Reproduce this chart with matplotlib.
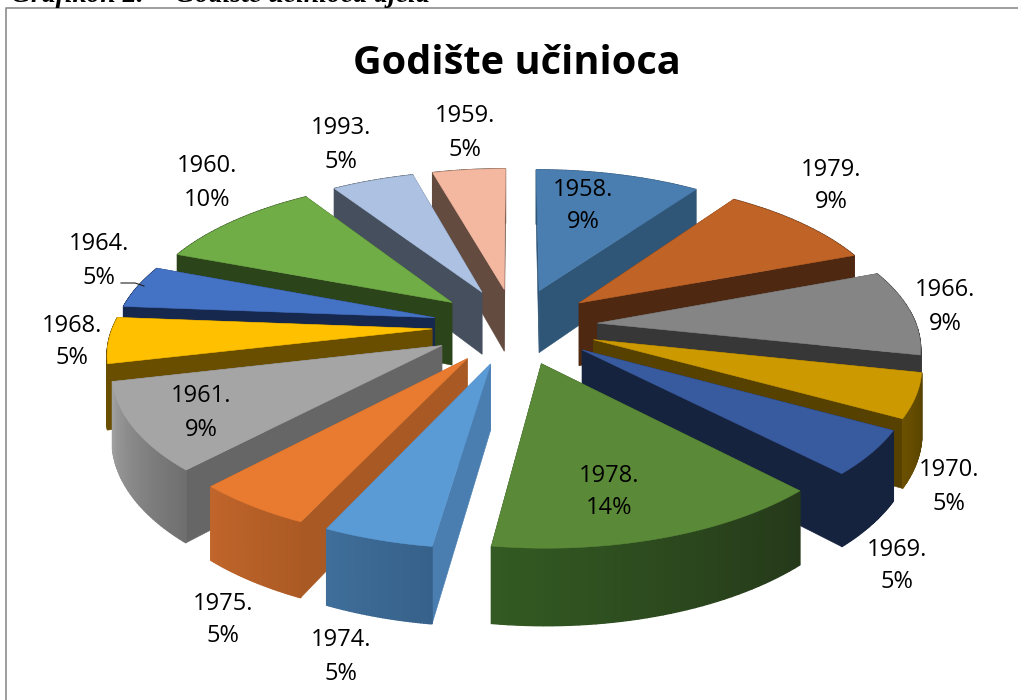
import numpy as np
import matplotlib
matplotlib.use('Agg')
import matplotlib.pyplot as plt

years = ['1958', '1979', '1966', '1970', '1969', '1978', '1974',
         '1975', '1961', '1968', '1964', '1960', '1993', '1959']
percents = [9, 9, 9, 5, 5, 14, 5, 5, 9, 5, 5, 10, 5, 5]

top_colors = ['#4a7eb0', '#c06326', '#858585', '#cc9a00', '#385a9f', '#5a8a38', '#5b9bd5',
              '#e87b30', '#a5a5a5', '#ffc000', '#4472c4', '#70ad47', '#adc2e2', '#f4b7a0']
cut_colors = ['#2f5577', '#4f2811', '#373737', '#574100', '#16233f', '#263f1a', '#4a7eb0',
              '#a95a24', '#666666', '#6a4e00', '#17284f', '#2c4419', '#454f5e', '#634b3f']
# outer wall shade at the start and the end of each slice
rim_start = ['#2f5577', '#4f2811', '#373737', '#574100', '#16233f', '#25391a', '#36618a',
             '#ac5a24', '#6f6f6f', '#6a4e00', '#17284f', '#2c4419', '#454f5e', '#634b3f']
rim_end = ['#2f5577', '#4f2811', '#373737', '#6a5000', '#16233f', '#335a22', '#3f6e9a',
           '#c0652b', '#a0a0a0', '#6a4e00', '#17284f', '#2c4419', '#454f5e', '#634b3f']

label_x = [583, 831, 945, 949, 897, 609, 341, 223, 201, 72, 99, 207, 341, 465]
label_y = [204, 184, 305, 485, 564, 490, 655, 618, 411, 340, 259, 181, 143, 131]

# projection of the pie, unit radius, pixels on screen
CX, CY = 515, 326
SCALE_X, SCALE_Y = 319, 147
PERSPECTIVE = 0.14
WALL = 64
EXPLODE = 0.26
# the picture's angles do not follow a clean projection, correction in degrees
WARP_AT = [0, 32.4, 64.8, 97.2, 115.2, 133.2, 183.6, 201.6, 219.6, 252, 270, 288, 324, 342, 360]
WARP_BY = [0, 2.6, 4.4, 5.0, 4.0, 3.0, 4.5, 3.3, 3.4, 4.8, 4.5, 3.0, 3.0, 2.5, 0]


def warp(deg):
    return deg + np.interp(deg, WARP_AT, WARP_BY)


def project(x, y, z=0.0):
    w = 1 + PERSPECTIVE * y
    return CX + SCALE_X * x / w, CY - (SCALE_Y * y + WALL * z) / w


def hex_mix(c1, c2, t):
    a = np.array(matplotlib.colors.to_rgb(c1))
    b = np.array(matplotlib.colors.to_rgb(c2))
    return tuple(a + (b - a) * t)


def poly(ax, xs, ys, color, lw=0.4):
    ax.fill(xs, ys, facecolor=color, edgecolor=color, linewidth=lw)


def draw_slice(ax, start, stop, i):
    mid = np.deg2rad(warp((start + stop) / 2))
    ox, oy = EXPLODE * np.sin(mid), EXPLODE * np.cos(mid)
    ang = np.deg2rad(warp(np.linspace(start, stop, 41)))
    rx, ry = ox + np.sin(ang), oy + np.cos(ang)
    # the two cut walls
    for k in (0, -1):
        tx, ty = project(ox, oy)
        ex, ey = project(rx[k], ry[k])
        bx, by = project(rx[k], ry[k], -1)
        tx2, ty2 = project(ox, oy, -1)
        poly(ax, [tx, ex, bx, tx2], [ty, ey, by, ty2], cut_colors[i])
    # outer wall in small strips for the shading
    for j in range(len(ang) - 1):
        x0, y0 = project(rx[j], ry[j])
        x1, y1 = project(rx[j + 1], ry[j + 1])
        x2, y2 = project(rx[j + 1], ry[j + 1], -1)
        x3, y3 = project(rx[j], ry[j], -1)
        poly(ax, [x0, x1, x2, x3], [y0, y1, y2, y3],
             hex_mix(rim_start[i], rim_end[i], j / (len(ang) - 2)), lw=1.0)
    # top face
    sx, sy = project(rx, ry)
    tx, ty = project(ox, oy)
    poly(ax, np.r_[tx, sx], np.r_[ty, sy], top_colors[i])


def main():
    fig = plt.figure(figsize=(10.18, 7.0), dpi=100)
    ax = fig.add_axes([0, 0, 1, 1])
    ax.set_xlim(0, 1018)
    ax.set_ylim(700, 0)
    ax.axis('off')

    edges = np.r_[0, np.cumsum(percents)] * 3.6
    mids = (edges[:-1] + edges[1:]) / 2
    order = np.argsort(-np.cos(np.deg2rad(mids)))
    for i in order:
        draw_slice(ax, edges[i], edges[i + 1], i)

    # chart frame, open on the right
    ax.plot([5.7, 5.7, 1018], [700, 8.3, 8.3], color='#8c8c8c', lw=1.2)

    ax.text(516.5, 63, 'Godište učinioca', family='Open Sans', fontweight='bold',
            fontsize=28.6, ha='center', va='center', color='black')
    for i in range(len(years)):
        ax.text(label_x[i], label_y[i] + 2, years[i] + '.\n' + str(percents[i]) + '%',
                family='Open Sans', fontsize=17, ha='center', va='center',
                linespacing=1.5, color='black')
    # leader line of the 1964 label
    ax.plot([121, 135, 144], [283, 283, 286], color='#222222', lw=0.8)

    # caption of the page, cut by the top of the image
    ax.text(11, 2.5, 'Grafikon 2.', family='Liberation Serif', style='italic',
            fontweight='bold', fontsize=20, va='baseline', color='black')
    ax.text(175, 2.5, 'Godište učinioca djela', family='Liberation Serif', style='italic',
            fontweight='bold', fontsize=20, va='baseline', color='black')

    fig.savefig('out.png', dpi=100)


if __name__ == '__main__':
    main()
